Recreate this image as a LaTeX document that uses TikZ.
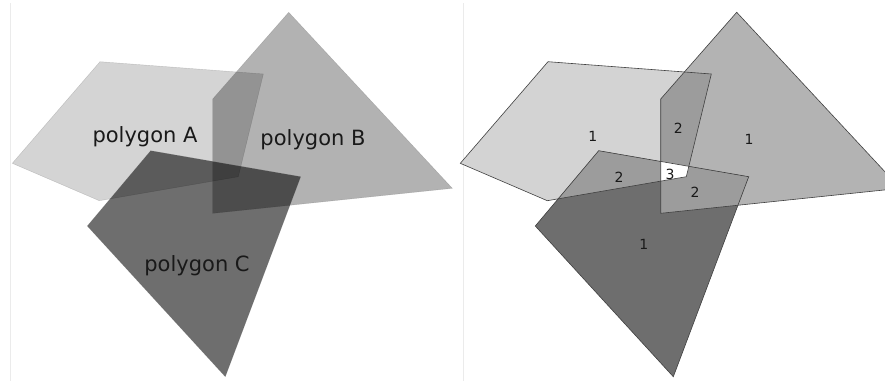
\documentclass[tikz,border=0pt]{standalone}
\usepackage{fontspec}
\newfontfamily\polyfont{DejaVu Sans}

\definecolor{onlyA}{HTML}{D3D3D3}
\definecolor{onlyB}{HTML}{B3B3B3}
\definecolor{onlyC}{HTML}{6E6E6E}
\definecolor{twice}{HTML}{9C9C9C}

% the three polygons, in pixels of one panel
\def\polyA{(100,61.7) -- (263.3,74) -- (238.3,176.7) -- (99.3,200.7) -- (12.3,163.3) -- cycle}
\def\polyB{(212.7,99) -- (288.7,12.3) -- (452.3,188.3) -- (212.7,213.3) -- cycle}
\def\polyC{(150.7,150.7) -- (300.7,176.7) -- (225.3,376.7) -- (87.3,226) -- cycle}

\begin{document}
\begin{tikzpicture}[
    x=1pt, y=-1pt,
    see/.style      = {fill=black, fill opacity=#1, draw=black!60, draw opacity=0.3, line width=0.4pt},
    edge/.style     = {draw=black!75, line width=0.6pt},
    polylabel/.style = {font=\polyfont\fontsize{21}{25}\selectfont, text=black!90, inner sep=0pt},
    count/.style    = {font=\polyfont\fontsize{14}{16}\selectfont, text=black!90, inner sep=0pt}
  ]
  \useasboundingbox (0,0) rectangle (885,383);
  \clip (0,0) rectangle (885,383);
  \fill[white] (0,0) rectangle (885,383);
  \draw[black!8] (10,3) -- (10,381);

  % left: see-through polygons
  \path[see=0.17] \polyA;
  \path[see=0.30] \polyB;
  \path[see=0.57] \polyC;
  \node[polylabel] (labA) at (145,137) {polygon A};
  \node[polylabel] (labB) at (313,140) {polygon B};
  \node[polylabel] (labC) at (197,266) {polygon C};

  % right: counts of overlap
  \begin{scope}[xshift=448pt]
    \draw[black!8] (15,3) -- (15,381);
    \fill[onlyA] \polyA;
    \fill[onlyB] \polyB;
    \fill[onlyC] \polyC;
    \begin{scope}
      \clip \polyA;
      \fill[twice] \polyB;
      \fill[twice] \polyC;
    \end{scope}
    \begin{scope}
      \clip \polyB;
      \fill[twice] \polyC;
    \end{scope}
    \begin{scope}
      \clip \polyA;
      \clip \polyB;
      \fill[white] \polyC;
    \end{scope}
    \path[edge] \polyA;
    \path[edge] \polyB;
    \path[edge] \polyC;
    \node[count] (oneA) at (144.7,136) {1};
    \node[count] (oneB) at (301,139.3) {1};
    \node[count] (oneC) at (195.7,244.3) {1};
    \node[count] (twoAB) at (230.3,128.3) {2};
    \node[count] (twoAC) at (171,177.7) {2};
    \node[count] (twoBC) at (247,192.7) {2};
    \node[count] (three) at (222,174) {3};
  \end{scope}
\end{tikzpicture}
\end{document}
